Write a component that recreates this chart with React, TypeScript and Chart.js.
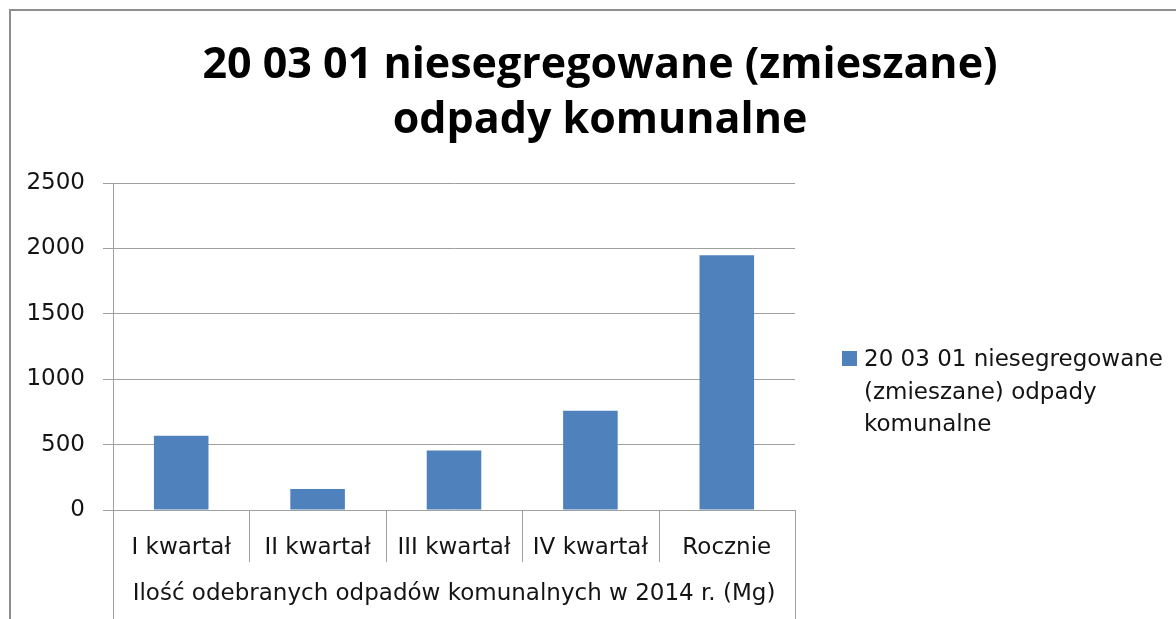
import React, { useEffect, useRef } from "react";
import { Chart, registerables } from "chart.js";

Chart.register(...registerables);

const titleLines = ["20 03 01 niesegregowane (zmieszane)", "odpady komunalne"];
const categories = ["I kwartał", "II kwartał", "III kwartał", "IV kwartał", "Rocznie"];
const seriesName = "20 03 01 niesegregowane (zmieszane) odpady komunalne";
const legendLines = ["20 03 01 niesegregowane", "(zmieszane) odpady", "komunalne"];
const values = [567, 161, 454, 758, 1948];
const groupLabel = "Ilość odebranych odpadów komunalnych w 2014 r. (Mg)";
const yMin = 0;
const yMax = 2500;
const yStep = 500;

const BAR = "#4F81BD";
const GRID = "#a0a0a0";
const TEXT = "#141414";
const FONT = "'DejaVu Sans', sans-serif";
const FS = 23;

const decorPlugin = {
  id: "decor",
  beforeDraw(chart: any) {
    const ctx = chart.ctx;
    ctx.save();
    ctx.fillStyle = "#ffffff";
    ctx.fillRect(0, 0, chart.width, chart.height);
    ctx.strokeStyle = "#8e8e8e";
    ctx.lineWidth = 2;
    ctx.beginPath();
    ctx.moveTo(9, 10);
    ctx.lineTo(chart.width, 10);
    ctx.moveTo(10, 9);
    ctx.lineTo(10, chart.height);
    ctx.stroke();
    ctx.restore();
  },
  afterDraw(chart: any) {
    const ctx = chart.ctx;
    const area = chart.chartArea;
    const xs = chart.scales.x;
    ctx.save();
    // title
    ctx.fillStyle = "#000000";
    ctx.font = "bold 43px 'Open Sans', sans-serif";
    ctx.textAlign = "center";
    ctx.textBaseline = "alphabetic";
    ctx.fillText(titleLines[0], 600, 78);
    ctx.fillText(titleLines[1], 600, 133);

    // category separators
    const n = categories.length;
    const half = (xs.getPixelForValue(1) - xs.getPixelForValue(0)) / 2;
    ctx.strokeStyle = GRID;
    ctx.lineWidth = 1;
    ctx.beginPath();
    for (let i = 0; i <= n; i++) {
      const x = Math.round(i < n ? xs.getPixelForValue(i) - half : xs.getPixelForValue(n - 1) + half) + 0.5;
      const outer = i === 0 || i === n;
      ctx.moveTo(x, area.bottom);
      ctx.lineTo(x, outer ? chart.height : area.bottom + 52);
    }
    ctx.stroke();

    // legend
    const lx = 842;
    ctx.fillStyle = BAR;
    ctx.fillRect(lx, 351, 15, 15);
    ctx.fillStyle = TEXT;
    ctx.font = `${FS}px ${FONT}`;
    ctx.textAlign = "left";
    ctx.textBaseline = "alphabetic";
    legendLines.forEach((line, i) => {
      ctx.fillText(line, 864, 366 + i * 32.5);
    });
    ctx.restore();
  },
};

export default function App() {
  const ref = useRef<HTMLCanvasElement>(null);
  useEffect(() => {
    if (!ref.current) return;
    const chart = new Chart(ref.current, {
      type: "bar",
      data: {
        labels: categories,
        datasets: [
          {
            label: seriesName,
            data: values,
            backgroundColor: BAR,
            borderWidth: 0,
            barPercentage: 0.4,
            categoryPercentage: 1,
          },
        ],
      },
      options: {
        responsive: false,
        animation: false,
        layout: { padding: { left: 0, right: 381, top: 183, bottom: 0 } },
        plugins: {
          legend: { display: false },
          title: { display: false },
          tooltip: { enabled: false },
        },
        scales: {
          x: {
            grid: { display: false, drawTicks: false },
            border: { display: false },
            ticks: { color: TEXT, font: { family: FONT, size: FS }, padding: 24, maxRotation: 0, autoSkip: false },
            title: {
              display: true,
              text: groupLabel,
              color: TEXT,
              font: { family: FONT, size: FS },
              padding: { top: 11, bottom: 11 },
            },
            afterFit(scale: any) {
              scale.height = 109;
            },
          },
          y: {
            min: yMin,
            max: yMax,
            ticks: {
              stepSize: yStep,
              color: TEXT,
              font: { family: FONT, size: FS },
              padding: 18,
              callback: (v: any) => String(v),
            },
            grid: { color: GRID, tickLength: 10, lineWidth: 1 },
            border: { display: true, color: GRID },
            afterFit(scale: any) {
              scale.width = 113;
            },
          },
        },
      },
      plugins: [decorPlugin],
    });
    return () => chart.destroy();
  }, []);
  return (
    <div style={{ position: "absolute", left: 0, top: 0, width: 1176, height: 619, background: "#fff" }}>
      <canvas ref={ref} width={1176} height={619} />
    </div>
  );
}
